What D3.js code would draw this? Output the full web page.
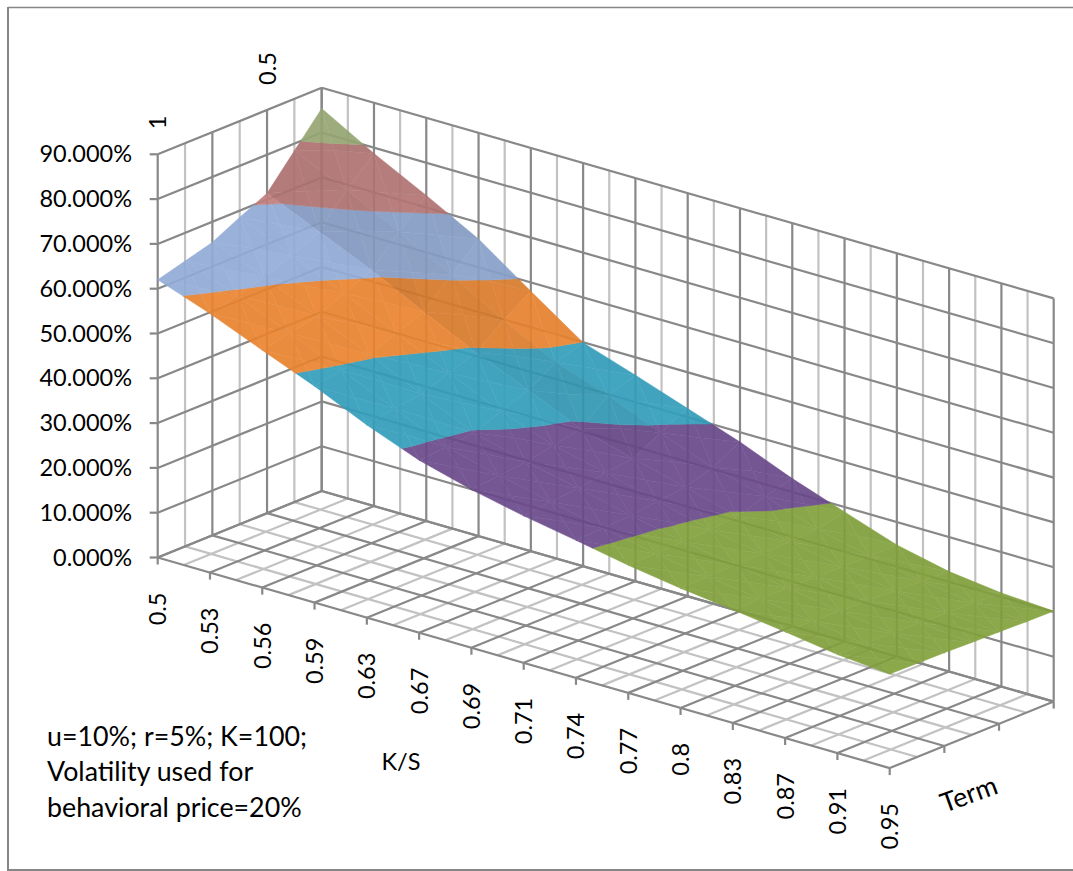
<!DOCTYPE html>
<html><head><meta charset="utf-8">
<script src="https://cdn.jsdelivr.net/npm/d3@7"></script>
<style>html,body{margin:0;padding:0;background:#fff}svg{display:block}text{font-family:Lato,sans-serif;fill:#000}</style>
</head><body><svg id="c" width="1073" height="871"></svg>
<script>
const ksLabels=["0.5","0.53","0.56","0.59","0.63","0.67","0.69","0.71","0.74","0.77","0.8","0.83","0.87","0.91","0.95"];
const termLabels=["1","","","","0.5","",""];
const zTicks=[0,10,20,30,40,50,60,70,80,90];
const bandEdges=[20,30,40,50,60,70,80,90];
const bandColors=["#809E3B","#684889","#339CB9","#E7822E","#91AAD5","#C07E7C","#A7B980"];
const term0=[62,57.8,53,48.3,43,38.5,35.3,32.8,30.7,28.5,26.7,25.3,23.7,22,21];
const term1=[63.7,59.3,54.3,49.4,44.2,39,36,33.4,31,28.6,26.8,25.2,23.6,22,20.9];
const term2=[65.4,61,55.7,50.5,45,39.7,36.5,34,31.3,28.8,27,25.2,23.4,21.8,20.8];
const term3=[68.5,63.3,58.2,52.7,47.2,42,37.8,35,32,29,27,25.1,23.2,21.6,20.6];
const term4=[71.4,66.2,61,55,49.3,44.2,39,35.7,32.7,29.5,27.2,25,23,21.4,20.5];
const term5=[78.4,73.1,67,60.8,54,48,44,39,34.6,31.5,27.5,24.9,22.6,21.1,20.3];
const term6=[85.4,78.7,72.7,66.3,58,49.9,46,41.9,37.8,33,28.9,24.9,22.3,20.9,20.2];
const surface=[term0,term1,term2,term3,term4,term5,term6];

const svg=d3.select("#c");
const nI=ksLabels.length-1,nJ=termLabels.length-1;
const ox=157.7,oy=557.5;
const ix=d3.scaleLinear([0,nI],[0,732]),iy=d3.scaleLinear([0,nI],[0,210.6]);
const jx=d3.scaleLinear([0,nJ],[0,164]),jy=d3.scaleLinear([0,nJ],[0,-66.5]);
const vy=d3.scaleLinear([0,90],[0,403.2]);
const P=(i,j,v)=>[ox+ix(i)+jx(j),oy+iy(i)+jy(j)-vy(v)];
const DARK="#888888",LIGHT="#c2c2c2",LW=2.2;
const line=(g,a,b,c,w=LW)=>g.append("line").attr("x1",a[0]).attr("y1",a[1]).attr("x2",b[0]).attr("y2",b[1]).attr("stroke",c).attr("stroke-width",w);

const frame=svg.append("g");
line(frame,[8,7.5],[1073,7.5],"#868686",1.5);
line(frame,[8,7],[8,871],"#868686",2);
line(frame,[8,870],[1073,870],"#868686",2);

const grid=svg.append("g");
const zMax=90;
for(let k=1;k<2*nI;k+=2){const i=k/2;
  line(grid,P(i,nJ,0),P(i,nJ,zMax),LIGHT);line(grid,P(i,0,0),P(i,nJ,0),LIGHT);}
for(let j=1;j<nJ;j+=2){
  line(grid,P(0,j,0),P(0,j,zMax),LIGHT);line(grid,P(0,j,0),P(nI,j,0),LIGHT);}
for(let i=0;i<=nI;i++){
  line(grid,P(i,nJ,0),P(i,nJ,zMax),DARK);line(grid,P(i,0,0),P(i,nJ,0),DARK);
  line(grid,P(i,0,0),[P(i,0,0)[0],P(i,0,0)[1]+7],DARK);}
for(let j=0;j<=nJ;j+=2){
  line(grid,P(0,j,0),P(0,j,zMax),DARK);line(grid,P(0,j,0),P(nI,j,0),DARK);
  if(j>0)line(grid,P(nI,j,0),[P(nI,j,0)[0],P(nI,j,0)[1]+7],DARK);}
zTicks.forEach(z=>{
  line(grid,P(0,0,z),P(0,nJ,z),DARK);line(grid,P(0,nJ,z),P(nI,nJ,z),DARK);
  const a=P(0,0,z);line(grid,[a[0]-8,a[1]],a,DARK);
});

function clip(poly,lo,hi){
  const cut=(pts,inside,lim)=>{const out=[];
    pts.forEach((p,k)=>{const q=pts[(k+1)%pts.length];
      const a=inside(p[2]),b=inside(q[2]);
      if(a)out.push(p);
      if(a!==b){const t=(lim-p[2])/(q[2]-p[2]);out.push([p[0]+t*(q[0]-p[0]),p[1]+t*(q[1]-p[1]),lim]);}
    });return out;};
  let r=cut(poly,v=>v>=lo,lo);
  if(r.length)r=cut(r,v=>v<=hi,hi);
  return r;
}
const surf=svg.append("g").attr("opacity",0.92);
const gen=d3.line();
const facetShade=[0,-0.03,0.025,0];
for(let j=nJ-1;j>=0;j--)for(let i=0;i<nI;i++){
  const A=[i,j,surface[j][i]],B=[i+1,j,surface[j][i+1]],C=[i+1,j+1,surface[j+1][i+1]],D=[i,j+1,surface[j+1][i]];
  const M=[i+.5,j+.5,(A[2]+B[2]+C[2]+D[2])/4];
  const dvdj=(D[2]-A[2]+C[2]-B[2])/2;
  const base=Math.max(-0.02,Math.min(0.3,(dvdj-3)*0.09));
  [[A,B,M],[B,C,M],[D,C,M],[A,D,M]].forEach((tri,t)=>{
    bandColors.forEach((col,b)=>{
      const poly=clip(tri,bandEdges[b],bandEdges[b+1]);
      if(poly.length<3)return;
      const c=d3.color(col).darker(base+facetShade[t]).formatHex();
      surf.append("path").attr("d",gen(poly.map(p=>P(p[0],p[1],p[2])))+"Z").attr("fill",c).attr("stroke",c).attr("stroke-width",0.5);
    });
  });
}

const fs=23.5,fsNote=26.8;
zTicks.forEach(z=>{const a=P(0,0,z);
  svg.append("text").attr("x",132).attr("y",a[1]+8).attr("text-anchor","end").attr("font-size",fs).text(z.toFixed(3)+"%");});
ksLabels.forEach((l,i)=>{const a=P(i,0,0);
  svg.append("text").attr("transform",`translate(${a[0]+8.5},${a[1]+35}) rotate(-90)`).attr("text-anchor","end").attr("font-size",fs).text(l);});
termLabels.forEach((l,j)=>{if(!l)return;const a=P(0,j,zMax);
  svg.append("text").attr("transform",`translate(${a[0]+8.5},${a[1]-25}) rotate(-90)`).attr("font-size",fs).text(l);});
svg.append("text").attr("x",401).attr("y",770).attr("text-anchor","middle").attr("font-size",fs).text("K/S");
svg.append("text").attr("transform","translate(972,803) rotate(-20)").attr("text-anchor","middle").attr("font-size",fsNote).text("Term");
["u=10%; r=5%; K=100;","Volatility used for","behavioral price=20%"].forEach((t,k)=>
  svg.append("text").attr("x",47).attr("y",[746,781,817][k]).attr("font-size",fsNote).text(t));
</script></body></html>
